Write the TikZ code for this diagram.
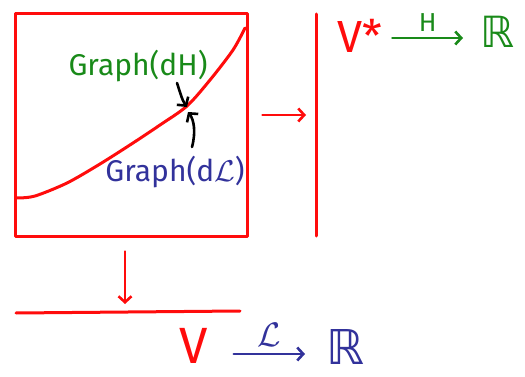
\documentclass[tikz,border=0pt]{standalone}
\usepackage{fix-cm}
\usepackage{fontspec}
\setmainfont{Fira Sans}
\newfontfamily\dejavu{DejaVu Sans}
\usetikzlibrary{arrows.meta}

\definecolor{inkred}{RGB}{255,12,12}
\definecolor{inkgreen}{RGB}{25,138,25}
\definecolor{inkblue}{RGB}{50,50,155}

\begin{document}
\begin{tikzpicture}[
    x=1pt, y=-1pt,
    redline/.style={draw=inkred, line width=3pt, line cap=round, line join=round},
    proj/.style={-{Straight Barb[length=6pt, width=13pt]}, inkred, line width=2.6pt, line cap=round},
    pointer/.style={-{Straight Barb[length=6pt, width=14pt]}, black, line width=2.6pt, line cap=round},
    hmap/.style={-{Straight Barb[length=6pt, width=13pt]}, inkgreen, line width=2.6pt, line cap=round},
    lmap/.style={-{Straight Barb[length=6pt, width=13pt]}, inkblue, line width=2.6pt, line cap=round},
    lbl/.style={font=\fontsize{30}{30}\selectfont, inner sep=1pt},
    sym/.style={inner sep=0pt, anchor=base west},
]
\useasboundingbox (0,0) rectangle (525,377);

% Nodes
\node[redline, minimum width=232pt, minimum height=222pt] (plane) at (131,125) {};
\coordinate (fibT) at (316,14);
\coordinate (fibB) at (316,236);
\coordinate (baseL) at (16,313);
\coordinate (baseR) at (240,311);
\coordinate (meet) at (187,107);
\coordinate (dHtail) at (177,83);
\coordinate (dLtail) at (192,147);

\node[lbl, text=inkgreen] (dH) at (138,66) {Graph(dH)};
\node[lbl, text=inkblue] (dL) at (175,172) {Graph(d$\mathcal{L}$)};
\node[sym, text=inkred, font=\fontsize{45}{45}\selectfont] (Vstar) at (337,53) {V*};
\node[sym, text=inkgreen, font=\dejavu\fontsize{43}{43}\selectfont] (Rtop) at (480,48) {ℝ};
\node[sym, text=inkred, font=\fontsize{51}{51}\selectfont] (Vbot) at (179,363) {V};
\node[sym, text=inkblue, font=\dejavu\fontsize{48}{48}\selectfont] (Rbot) at (326,364) {ℝ};

% Lines
\draw[redline] (fibT) -- (fibB);
\draw[redline] (baseL) -- (baseR);
\draw[redline] plot[smooth] coordinates {(17,198) (35,196) (67,183) (100,164) (133,143) (160,125) (187,106) (210,80) (233,50) (245,28)};

% Arrows
\draw[proj] ([shift={(14,-10)}]plane.east) -- ([shift={(-10,-10)}]plane.east -| fibT);
\draw[proj] ([shift={(-6,14)}]plane.south) -- ([shift={(-6,-9)}]plane.south |- baseL);
\draw[pointer] (dHtail) .. controls (180,92) and (182,100) .. (meet);
\draw[pointer] (dLtail) .. controls (196,132) and (194,120) .. ([shift={(1,5)}]meet);
\draw[hmap] ([shift={(10,-15)}]Vstar.base east) -- ([shift={(-17,-10)}]Rtop.base west)
    node[midway, above=5pt, font=\fontsize{26}{26}\selectfont, inner sep=0pt] {H};
\draw[lmap] ([shift={(26,-9)}]Vbot.base east) -- ([shift={(-21,-10)}]Rbot.base west)
    node[midway, above=6pt, font=\fontsize{34}{34}\selectfont, inner sep=0pt] {$\mathcal{L}$};

\end{tikzpicture}
\end{document}
